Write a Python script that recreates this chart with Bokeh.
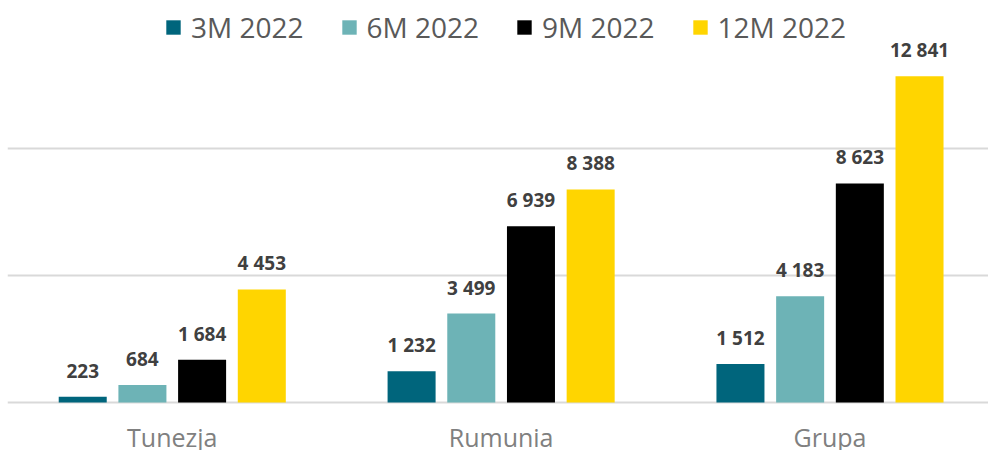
from bokeh.plotting import figure
from bokeh.models import (ColumnDataSource, Range1d, FixedTicker, Legend, LegendItem)
from bokeh.core.properties import value
from bokeh.embed import file_html
from bokeh.resources import INLINE

categories = ["Tunezja", "Rumunia", "Grupa"]
series = ["3M 2022", "6M 2022", "9M 2022", "12M 2022"]
v_3m = [223, 1232, 1512]
v_6m = [684, 3499, 4183]
v_9m = [1684, 6939, 8623]
v_12m = [4453, 8388, 12841]
colors = ["#00657C", "#6DB3B6", "#000000", "#FFD500"]
grid_ticks = [0, 5000, 10000]

values = [v_3m, v_6m, v_9m, v_12m]

FONT = "Open Sans"
step = 0.1815
bar_w = 0.146

p = figure(width=988, height=450,
           x_range=Range1d(-0.001, 2.982), y_range=Range1d(-1890, 15827),
           x_axis_location=None, y_axis_location=None,
           toolbar_location=None, output_backend="svg",
           min_border_left=7, min_border_right=0, min_border_top=0, min_border_bottom=0)
p.outline_line_color = None
p.background_fill_color = "white"
p.border_fill_color = "white"

p.xgrid.visible = False
p.ygrid.ticker = FixedTicker(ticks=grid_ticks)
p.ygrid.grid_line_color = "#D9D9D9"
p.ygrid.grid_line_width = 2

items = []
for i, (name, vals, col) in enumerate(zip(series, values, colors)):
    xs = [k + 0.5 + (i - 1.5) * step for k in range(len(categories))]
    labels = [f"{v:,}".replace(",", " ") for v in vals]
    src = ColumnDataSource(dict(x=xs, top=vals, label=labels))
    r = p.vbar(x="x", top="top", bottom=0, width=bar_w, source=src,
               fill_color=col, line_color=None)
    p.text(x="x", y="top", text="label", source=src, y_offset=-26,
           text_align="center", text_baseline="alphabetic",
           text_font=value(FONT), text_font_style="bold",
           text_font_size="19px", text_color="#404040")
    items.append(LegendItem(label=name, renderers=[r]))

# category labels under the groups
cat_src = ColumnDataSource(dict(x=[k + 0.5 for k in range(len(categories))],
                                y=[0] * len(categories), text=categories))
p.text(x="x", y="y", text="text", source=cat_src, y_offset=35,
       text_align="center", text_baseline="alphabetic",
       text_font=value(FONT), text_font_size="25px", text_color="#808080")

legend = Legend(items=items, orientation="horizontal", location=(157, 404),
                glyph_width=18, glyph_height=18, label_standoff=9, spacing=36,
                padding=0, margin=0, border_line_color=None,
                background_fill_alpha=0,
                label_text_font=FONT, label_text_font_size="28px",
                label_text_color="#595959")
p.add_layout(legend, "center")

open("out.html", "w").write(file_html(p, INLINE))
